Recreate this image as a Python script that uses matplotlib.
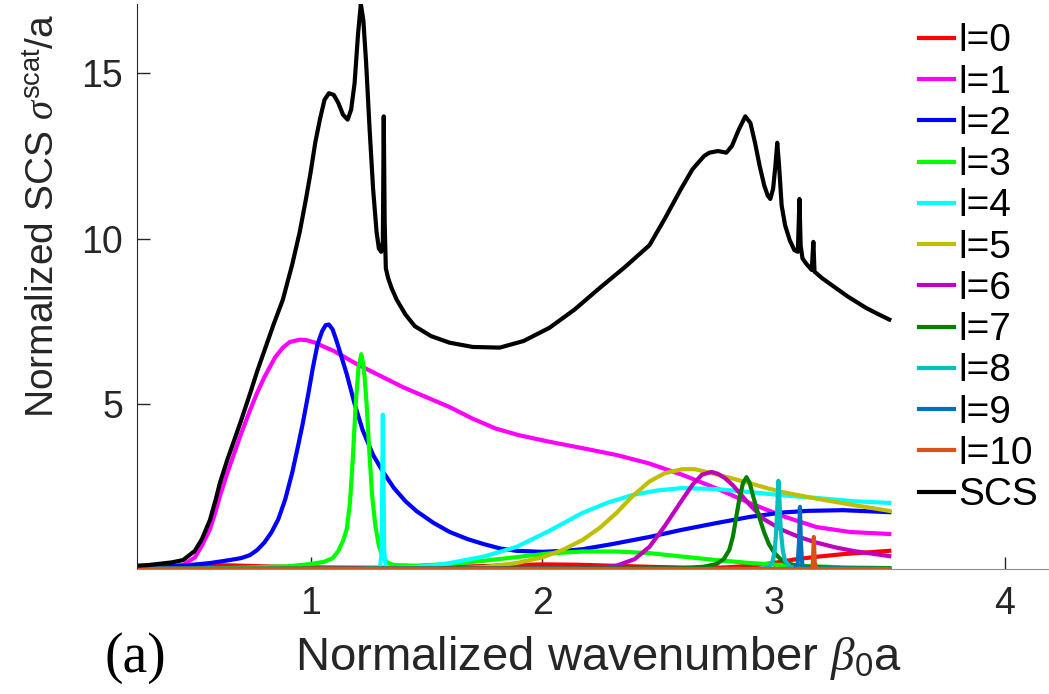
import numpy as np
import matplotlib
matplotlib.use("Agg")
import matplotlib.pyplot as plt

plt.rcParams['font.family'] = ['Liberation Sans', 'DejaVu Sans']
plt.rcParams['mathtext.fontset'] = 'custom'
plt.rcParams['mathtext.rm'] = 'Liberation Sans'
plt.rcParams['mathtext.sf'] = 'Liberation Sans'
plt.rcParams['mathtext.it'] = 'Liberation Serif:italic'

x_scs = [0.25, 0.30, 0.35, 0.40, 0.449, 0.50, 0.53, 0.565, 0.59, 0.608, 0.64, 0.67, 0.70, 0.738,
         0.77, 0.80, 0.84, 0.88, 0.92, 0.953, 0.98, 1.00, 1.02, 1.04, 1.06, 1.079, 1.10, 1.12,
         1.14, 1.16, 1.175, 1.19, 1.205, 1.217, 1.228, 1.24, 1.255, 1.27, 1.285, 1.295, 1.305,
         1.312, 1.316, 1.32, 1.325, 1.335, 1.35, 1.372, 1.41, 1.45, 1.52, 1.60, 1.70, 1.817,
         1.92, 2.032, 2.14, 2.248, 2.36, 2.464, 2.53, 2.60, 2.65, 2.70, 2.723, 2.76, 2.796,
         2.82, 2.85, 2.878, 2.90, 2.92, 2.94, 2.96, 2.975, 2.986, 2.998, 3.008, 3.016, 3.024,
         3.035, 3.05, 3.07, 3.09, 3.105, 3.112, 3.117, 3.125, 3.14, 3.165, 3.172, 3.177, 3.21,
         3.25, 3.32, 3.40, 3.45, 3.50]
y_scs = [0.1, 0.12, 0.16, 0.2, 0.27, 0.55, 0.9, 1.48, 2.1, 2.6, 3.3, 3.9, 4.5, 5.3,
         6.0, 6.6, 7.4, 8.15, 9.2, 10.2, 11.2, 12.0, 12.9, 13.6, 14.2, 14.4, 14.35, 14.1,
         13.75, 13.6, 13.9, 14.7, 16.2, 17.1, 16.6, 15.3, 13.3, 11.5, 10.2, 9.7, 9.6,
         9.9, 13.7, 10.5, 9.1, 8.8, 8.5, 8.15, 7.7, 7.35, 7.05, 6.85, 6.72, 6.7,
         6.9, 7.3, 7.85, 8.5, 9.15, 9.8, 10.6, 11.5, 12.1, 12.5, 12.6, 12.65, 12.6,
         12.8, 13.3, 13.7, 13.5, 12.9, 12.2, 11.6, 11.3, 11.2, 11.5, 12.2, 12.9, 12.2,
         11.0, 10.4, 9.95, 9.65, 9.6, 11.2, 9.8, 9.4, 9.25, 9.05, 9.9, 9.0, 8.8,
         8.6, 8.25, 7.9, 7.72, 7.55]

x_l0 = [0.25, 0.4, 0.5, 0.65, 0.8, 1.0, 1.2, 1.4, 1.6, 1.8, 2.0, 2.15, 2.3, 2.5, 2.7, 2.8,
        2.9, 3.0, 3.1, 3.2, 3.3, 3.4, 3.5]
y_l0 = [0.05, 0.09, 0.12, 0.11, 0.08, 0.05, 0.04, 0.04, 0.06, 0.1, 0.14, 0.13, 0.1, 0.06,
        0.03, 0.05, 0.1, 0.18, 0.3, 0.38, 0.45, 0.5, 0.55]

x_l1 = [0.25, 0.30, 0.35, 0.40, 0.449, 0.50, 0.53, 0.565, 0.59, 0.608, 0.64, 0.67, 0.70, 0.738,
        0.77, 0.80, 0.846, 0.88, 0.91, 0.953, 0.98, 1.02, 1.06, 1.10, 1.15, 1.20, 1.30, 1.40,
        1.50, 1.601, 1.70, 1.80, 1.90, 2.032, 2.18, 2.322, 2.46, 2.606, 2.75, 2.896, 3.04,
        3.185, 3.33, 3.5]
y_l1 = [0.02, 0.03, 0.05, 0.08, 0.12, 0.35, 0.7, 1.2, 1.75, 2.2, 2.9, 3.5, 4.1, 4.8,
        5.35, 5.8, 6.4, 6.7, 6.87, 6.94, 6.93, 6.85, 6.72, 6.6, 6.4, 6.2, 5.85, 5.5,
        5.2, 4.9, 4.55, 4.25, 4.05, 3.85, 3.65, 3.45, 3.2, 2.85, 2.45, 2.0, 1.6,
        1.27, 1.12, 1.06]

x_l2 = [0.25, 0.35, 0.449, 0.565, 0.65, 0.70, 0.738, 0.77, 0.80, 0.83, 0.86, 0.89, 0.92, 0.945,
        0.966, 0.99, 1.01, 1.03, 1.05, 1.065, 1.079, 1.095, 1.11, 1.13, 1.156, 1.19, 1.225,
        1.27, 1.312, 1.36, 1.41, 1.458, 1.53, 1.601, 1.68, 1.75, 1.82, 1.89, 2.0, 2.1, 2.175,
        2.3, 2.464, 2.6, 2.753, 2.9, 3.038, 3.15, 3.3, 3.5]
y_l2 = [0.05, 0.07, 0.1, 0.18, 0.27, 0.33, 0.42, 0.58, 0.8, 1.1, 1.5, 2.1, 2.9, 3.7,
        4.4, 5.3, 6.1, 6.8, 7.2, 7.38, 7.4, 7.25, 6.95, 6.5, 5.9, 5.0, 4.2,
        3.45, 2.95, 2.45, 2.05, 1.75, 1.4, 1.12, 0.9, 0.75, 0.62, 0.55, 0.52, 0.55, 0.6,
        0.75, 0.97, 1.18, 1.39, 1.58, 1.71, 1.76, 1.78, 1.72]

x_l3 = [0.25, 0.6, 0.9, 1.0, 1.06, 1.096, 1.12, 1.14, 1.156, 1.17, 1.182, 1.195, 1.207, 1.219,
        1.23, 1.242, 1.254, 1.266, 1.28, 1.295, 1.31, 1.33, 1.36, 1.45, 1.6, 1.75, 1.89, 2.03,
        2.175, 2.32, 2.464, 2.6, 2.753, 2.9, 3.038, 3.3, 3.5]
y_l3 = [0.0, 0.02, 0.08, 0.15, 0.22, 0.33, 0.55, 0.85, 1.2, 2.0, 3.3, 5.0, 6.1, 6.5,
        6.1, 5.0, 3.5, 2.2, 1.3, 0.7, 0.4, 0.2, 0.12, 0.1, 0.15, 0.25, 0.36, 0.47,
        0.53, 0.53, 0.48, 0.38, 0.27, 0.18, 0.12, 0.05, 0.03]

x_l4 = [0.25, 1.2, 1.30, 1.307, 1.312, 1.318, 1.325, 1.35, 1.45, 1.53, 1.601, 1.75, 1.89, 2.03,
        2.175, 2.28, 2.391, 2.5, 2.606, 2.75, 2.896, 3.04, 3.185, 3.35, 3.5]
y_l4 = [0.0, 0.0, 0.05, 0.5, 4.67, 0.5, 0.05, 0.02, 0.06, 0.11, 0.18, 0.38, 0.67, 1.15,
        1.7, 2.0, 2.24, 2.38, 2.45, 2.42, 2.33, 2.23, 2.15, 2.05, 2.0]

x_l5 = [0.25, 1.6, 1.75, 1.89, 2.0, 2.09, 2.175, 2.25, 2.322, 2.39, 2.464, 2.53, 2.606, 2.66,
        2.72, 2.8, 2.896, 2.97, 3.038, 3.11, 3.185, 3.35, 3.5]
y_l5 = [0.0, 0.01, 0.06, 0.18, 0.35, 0.58, 0.88, 1.25, 1.7, 2.2, 2.65, 2.9, 3.02, 3.02,
        2.92, 2.78, 2.6, 2.45, 2.33, 2.23, 2.13, 1.93, 1.76]

x_l6 = [0.25, 2.2, 2.322, 2.40, 2.464, 2.53, 2.606, 2.65, 2.69, 2.732, 2.76, 2.79, 2.822, 2.86,
        2.896, 2.96, 3.038, 3.11, 3.185, 3.27, 3.35, 3.5]
y_l6 = [0.0, 0.02, 0.1, 0.3, 0.67, 1.3, 2.1, 2.55, 2.85, 2.94, 2.88, 2.75, 2.55, 2.25,
        1.95, 1.5, 1.18, 0.97, 0.8, 0.65, 0.54, 0.39]

x_l7 = [0.25, 2.6, 2.7, 2.753, 2.785, 2.809, 2.825, 2.839, 2.853, 2.868, 2.883, 2.897, 2.912,
        2.926, 2.939, 2.96, 2.98, 3.004, 3.03, 3.06, 3.112, 3.3, 3.5]
y_l7 = [0.0, 0.02, 0.07, 0.15, 0.3, 0.58, 1.0, 1.58, 2.15, 2.6, 2.78, 2.6, 2.2,
        1.85, 1.55, 1.1, 0.75, 0.48, 0.3, 0.17, 0.08, 0.03, 0.02]

x_l8 = [0.25, 2.95, 2.98, 2.995, 3.005, 3.012, 3.017, 3.021, 3.026, 3.031, 3.04, 3.05, 3.07,
        3.1, 3.5]
y_l8 = [0.0, 0.0, 0.07, 0.2, 0.55, 1.2, 2.0, 2.67, 2.0, 1.2, 0.55, 0.25, 0.08, 0.02, 0.0]

x_l9 = [0.25, 3.09, 3.104, 3.11, 3.114, 3.118, 3.124, 3.135, 3.5]
y_l9 = [0.0, 0.0, 0.15, 0.8, 1.88, 0.8, 0.15, 0.02, 0.0]

x_l10 = [0.25, 3.165, 3.17, 3.174, 3.178, 3.185, 3.5]
y_l10 = [0.0, 0.0, 0.2, 0.97, 0.2, 0.0, 0.0]

labels = ['l=0', 'l=1', 'l=2', 'l=3', 'l=4', 'l=5', 'l=6', 'l=7', 'l=8', 'l=9', 'l=10', 'SCS']
colors = ['#ff0000', '#ff00ff', '#0000ff', '#00ff00', '#00ffff', '#bfbf00', '#bf00bf',
          '#008000', '#00bfbf', '#0072bd', '#d95319', '#000000']

series = [(x_l0, y_l0), (x_l1, y_l1), (x_l2, y_l2), (x_l3, y_l3), (x_l4, y_l4), (x_l5, y_l5),
          (x_l6, y_l6), (x_l7, y_l7), (x_l8, y_l8), (x_l9, y_l9), (x_l10, y_l10), (x_scs, y_scs)]

fig = plt.figure(figsize=(10.49, 6.94), dpi=100)
ax = fig.add_axes([137 / 1049, 125 / 694, 912 / 1049, 565 / 694])

for (xs, ys), lab, col in zip(series, labels, colors):
    ax.plot(xs, ys, color=col, linewidth=3, label=lab, solid_joinstyle='round')

ax.set_xlim(0.25, 4.19)
ax.set_ylim(0, 17.1)
ax.set_xticks([1, 2, 3, 4])
ax.set_yticks([5, 10, 15])

ax.spines['right'].set_visible(False)
ax.spines['top'].set_visible(False)
ax.spines['bottom'].set_color('#8c8c8c')
ax.spines['left'].set_color('#262626')
ax.tick_params(axis='both', direction='in', labelsize=27, colors='#262626', length=9, width=1)
ax.tick_params(axis='x', pad=12)
ax.tick_params(axis='y', pad=10)

leg = ax.legend(loc='upper left', bbox_to_anchor=(900 / 1049, 1 - 4 / 694),
                bbox_transform=fig.transFigure, frameon=False, fontsize=28,
                handlelength=0.9, handletextpad=0.1, labelspacing=0.135, borderpad=0)

fig.text(598 / 1049, 1 - 658 / 694, r'Normalized wavenumber $\beta_{\mathrm{0}}$a',
         fontsize=34, ha='center', va='center', color='#262626')
fig.text(44 / 1049, 1 - 216 / 694, r'Normalized SCS $\sigma^{\mathrm{scat}}$/a',
         fontsize=28, ha='center', va='center', rotation=90, color='#262626')
fig.text(135 / 1049, 1 - 658 / 694, '(a)', fontsize=40, ha='center', va='center',
         family=['Liberation Serif', 'DejaVu Serif'])

fig.savefig('out.png', dpi=100)
